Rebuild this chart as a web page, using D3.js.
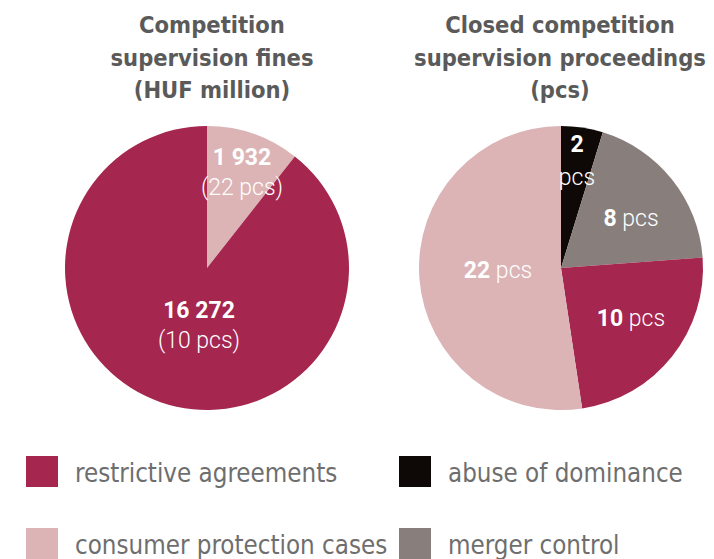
<!DOCTYPE html>
<html>
<head>
<meta charset="utf-8">
<script src="https://cdn.jsdelivr.net/npm/d3@7"></script>
<style>
body{margin:0;background:#fff}
.title{font-family:"Liberation Sans Narrow","DejaVu Sans Condensed",sans-serif;font-weight:bold;fill:#5a5a5a;font-size:23.5px}
.leg{font-family:"Liberation Sans Narrow","DejaVu Sans Condensed",sans-serif;fill:#6e6e6e;font-size:25.7px}
.num{font-family:Roboto,sans-serif;font-weight:700;fill:#fff;font-size:23px}
.pcs{font-family:Roboto,sans-serif;font-weight:300;fill:#fff;font-size:23px}
</style>
</head>
<body>
<div id="chart"></div>
<script>
// categories and colours
var categories=["restrictive agreements","abuse of dominance","consumer protection cases","merger control"]
var colors=["#a5264f","#0e0906","#dcb4b6","#887f7c"]

// left pie: fines (HUF million) and case counts
var finesCat=["consumer protection cases","restrictive agreements"]
var finesVal=[1932,16272]
var finesLbl=["1 932","16 272"]
var finesPcs=[22,10]

// right pie: closed proceedings (pcs)
var procCat=["abuse of dominance","merger control","restrictive agreements","consumer protection cases"]
var procVal=[2,8,10,22]

var titleLeft=["Competition","supervision fines","(HUF million)"]
var titleRight=["Closed competition","supervision proceedings","(pcs)"]

var W=714,H=559
var svg=d3.select("#chart").append("svg").attr("width",W).attr("height",H)

var color=d3.scaleOrdinal().domain(categories).range(colors)

var pie=d3.pie().sort(null).value(d=>d.v)
var R=142
var arc=d3.arc().innerRadius(0).outerRadius(R)

function drawTitle(lines,cx){
	svg.append("text").attr("class","title").attr("text-anchor","middle")
		.selectAll("tspan").data(lines).enter().append("tspan")
		.attr("x",cx).attr("y",(d,i)=>33+i*32.5).text(d=>d)
}
drawTitle(titleLeft,212)
drawTitle(titleRight,560)

// left pie
var gL=svg.append("g").attr("transform","translate(207,268)")
var dL=pie(finesCat.map((c,i)=>({c:c,v:finesVal[i],lbl:finesLbl[i],pcs:finesPcs[i]})))
gL.selectAll("path").data(dL).enter().append("path")
	.attr("d",arc).attr("fill",d=>color(d.data.c))

// label spots inside the slices
var posL=[[35,-103],[-8,50]]
dL.forEach(function(d,i){
	var x=posL[i][0],y=posL[i][1]
	var t=gL.append("text").attr("text-anchor","middle")
	t.append("tspan").attr("class","num").attr("x",x).attr("y",y).text(d.data.lbl)
	t.append("tspan").attr("class","pcs").attr("x",x).attr("y",y+30).text("("+d.data.pcs+" pcs)")
})

// right pie
var gR=svg.append("g").attr("transform","translate(561,268)")
var dR=pie(procCat.map((c,i)=>({c:c,v:procVal[i]})))
gR.selectAll("path").data(dR).enter().append("path")
	.attr("d",arc).attr("fill",d=>color(d.data.c))

var posR={"abuse of dominance":[16,-116],"merger control":[70,-42],"restrictive agreements":[70,58],"consumer protection cases":[-63,10]}
dR.forEach(function(d){
	var p=posR[d.data.c]
	if(d.data.c=="abuse of dominance"){
		var t=gR.append("text").attr("text-anchor","middle")
		t.append("tspan").attr("class","num").attr("x",p[0]).attr("y",p[1]).text(d.data.v)
		t.append("tspan").attr("class","pcs").attr("x",p[0]).attr("y",p[1]+33).text("pcs")
	}else{
		var t=gR.append("text").attr("text-anchor","middle").attr("x",p[0]).attr("y",p[1])
		t.append("tspan").attr("class","num").text(d.data.v)
		t.append("tspan").attr("class","pcs").text(" pcs")
	}
})

// legend
var legPos=[[26,456],[399,456],[26,528],[399,528]]
var leg=svg.selectAll(".legitem").data(categories).enter().append("g")
	.attr("transform",(d,i)=>"translate("+legPos[i][0]+","+legPos[i][1]+")")
leg.append("rect").attr("width",32).attr("height",31).attr("fill",d=>color(d))
leg.append("text").attr("class","leg").attr("x",49).attr("y",26).text(d=>d)
</script>
</body>
</html>
